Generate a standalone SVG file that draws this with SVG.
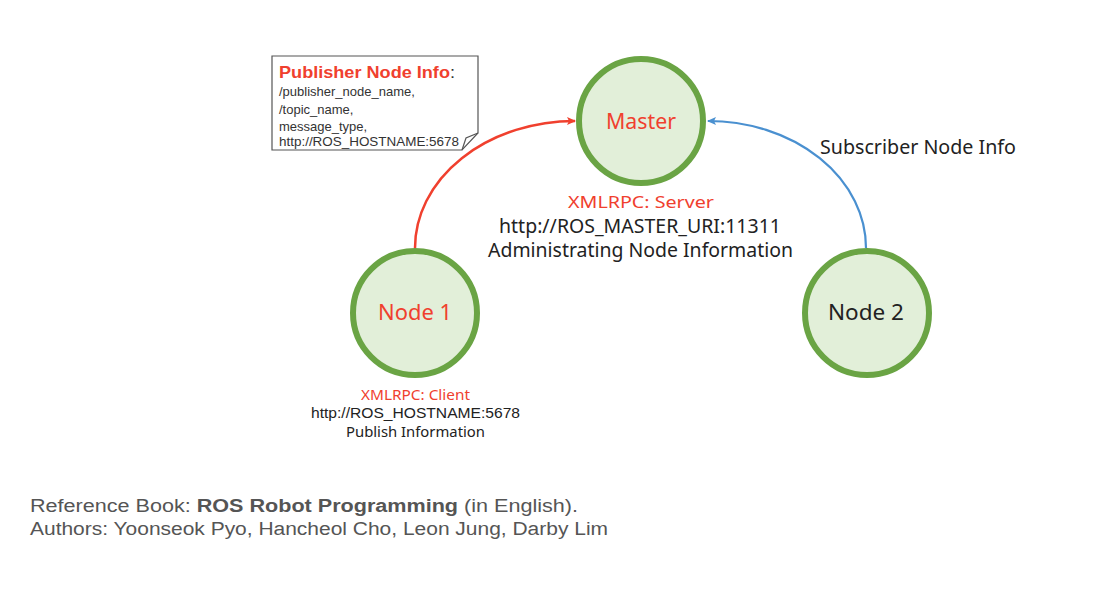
<svg xmlns="http://www.w3.org/2000/svg" width="1094" height="595" viewBox="0 0 1094 595">
<style>
.node{fill:#e2efd9;stroke:#6aa444;stroke-width:6}
.lbl{font-family:"Noto Sans","Open Sans",sans-serif;font-size:21px;text-anchor:middle}
.red{fill:#f0402e}
.blk{fill:#222}
.mid{font-family:"Noto Sans","Open Sans",sans-serif;text-anchor:middle}
.ar{font-family:"Liberation Sans",Arial,sans-serif}
</style>
<defs>
<marker id="ah-red" markerWidth="10" markerHeight="10" refX="8" refY="5" orient="auto" markerUnits="userSpaceOnUse">
<path d="M0,1 L9,5 L0,9 L2,5 Z" fill="#f0402e"/>
</marker>
<marker id="ah-blue" markerWidth="10" markerHeight="10" refX="8" refY="5" orient="auto" markerUnits="userSpaceOnUse">
<path d="M0,1 L9,5 L0,9 L2,5 Z" fill="#4a90d0"/>
</marker>
</defs>
<rect width="1094" height="595" fill="#ffffff"/>
<g id="connectors">
<path d="M415,248 A160 127 0 0 1 575,121" fill="none" stroke="#f0402e" stroke-width="2.5" marker-end="url(#ah-red)"/>
<path d="M866,248 A158 127 0 0 0 708,121" fill="none" stroke="#4a90d0" stroke-width="2.2" marker-end="url(#ah-blue)"/>
</g>
<g id="callout">
<polygon points="272,56 478,56 478,133 462,150 272,150" fill="#fff" stroke="#555" stroke-width="1.2"/>
<polyline points="462,150 466,138 478,133" fill="none" stroke="#555" stroke-width="1.2"/>
<text x="279" y="78" class="ar" font-size="17" font-weight="bold" textLength="176" lengthAdjust="spacingAndGlyphs"><tspan fill="#f0402e">Publisher Node Info</tspan><tspan fill="#333" font-weight="normal">:</tspan></text>
<text class="ar" font-size="13" fill="#333">
<tspan x="279" y="96">/publisher_node_name,</tspan>
<tspan x="279" y="114">/topic_name,</tspan>
<tspan x="279" y="131">message_type,</tspan>
<tspan x="279" y="146" textLength="180" lengthAdjust="spacingAndGlyphs">http://ROS_HOSTNAME:5678</tspan>
</text>
</g>
<g id="master">
<circle cx="641" cy="121" r="62" class="node"/>
<text x="641" y="129" class="lbl red" textLength="70" lengthAdjust="spacingAndGlyphs">Master</text>
<text x="641" y="208" class="mid red" font-size="17" textLength="146" lengthAdjust="spacingAndGlyphs">XMLRPC: Server</text>
<text x="640" y="233" class="mid blk" font-size="19" textLength="282" lengthAdjust="spacingAndGlyphs">http://ROS_MASTER_URI:11311</text>
<text x="640.5" y="257" class="mid blk" font-size="19" textLength="305" lengthAdjust="spacingAndGlyphs">Administrating Node Information</text>
</g>
<g id="node1">
<circle cx="415" cy="313" r="62" class="node"/>
<text x="415" y="320" class="lbl red" textLength="74" lengthAdjust="spacingAndGlyphs">Node 1</text>
<text x="415.5" y="400" class="mid red" font-size="15" textLength="109" lengthAdjust="spacingAndGlyphs">XMLRPC: Client</text>
<text x="415.5" y="418" class="ar blk" font-size="15" text-anchor="middle" textLength="209" lengthAdjust="spacingAndGlyphs">http://ROS_HOSTNAME:5678</text>
<text x="415.5" y="437" class="mid blk" font-size="14.5" textLength="139" lengthAdjust="spacingAndGlyphs">Publish Information</text>
</g>
<g id="node2">
<circle cx="867" cy="313" r="62" class="node"/>
<text x="866" y="320" class="lbl blk" textLength="76" lengthAdjust="spacingAndGlyphs">Node 2</text>
</g>
<g id="subscriber-label">
<text x="820" y="154" font-family="Noto Sans, Open Sans, sans-serif" font-size="19" fill="#222" textLength="196" lengthAdjust="spacingAndGlyphs">Subscriber Node Info</text>
</g>
<g id="reference">
<text x="30" y="512" class="ar" font-size="18" fill="#555" textLength="548" lengthAdjust="spacingAndGlyphs">Reference Book: <tspan font-weight="bold">ROS Robot Programming</tspan> (in English).</text>
<text x="30" y="535" class="ar" font-size="18" fill="#555" textLength="578" lengthAdjust="spacingAndGlyphs">Authors: Yoonseok Pyo, Hancheol Cho, Leon Jung, Darby Lim</text>
</g>
</svg>
